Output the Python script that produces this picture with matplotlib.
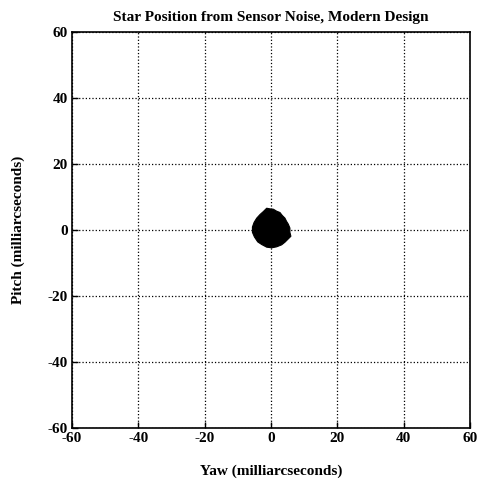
import matplotlib
matplotlib.use('Agg')
import matplotlib.pyplot as plt

# outline of the dense cluster of star positions (mas)
blob_yaw = [-2.3, -1.3, -0.3, 0.7, 1.7, 2.7, 3.4, 4.2, 4.7, 5.2, 5.7, 5.7, 6.0,
            5.2, 4.2, 3.2, 1.7, 0.2, -1.3, -2.8, -4.0, -5.0, -5.6, -5.6, -5.1,
            -4.3, -3.3]
blob_pitch = [5.6, 6.6, 6.4, 6.3, 5.7, 5.3, 4.4, 3.6, 2.6, 1.8, 0.6, -0.7, -1.9,
              -2.7, -3.7, -4.5, -5.1, -5.4, -5.2, -4.4, -3.6, -2.1, -0.7, 0.9,
              2.3, 3.6, 4.7]
ticks = [-60, -40, -20, 0, 20, 40, 60]

plt.rcParams['font.family'] = ['Liberation Serif', 'DejaVu Serif']
plt.rcParams['axes.unicode_minus'] = False

fig = plt.figure(figsize=(4.81, 4.88), dpi=100)
ax = fig.add_axes([72 / 481, 1 - 428 / 488, 398 / 481, 396 / 488])
ax.fill(blob_yaw, blob_pitch, color='k', lw=0.8, ec='k', zorder=3)

ax.set_xlim(-60, 60)
ax.set_ylim(-60, 60)
ax.set_xticks(ticks)
ax.set_yticks(ticks)
ax.tick_params(direction='in', length=4, labelsize=11, width=1, pad=3)
for lab in ax.get_xticklabels() + ax.get_yticklabels():
    lab.set_fontweight('bold')
ax.grid(True, color='k', linestyle=':', linewidth=0.9)
for s in ax.spines.values():
    s.set_linewidth(1.2)

ax.set_title('Star Position from Sensor Noise, Modern Design', fontsize=11,
             fontweight='bold', pad=8)
ax.set_xlabel('Yaw (milliarcseconds)', fontsize=11, fontweight='bold', labelpad=14)
ax.set_ylabel('Pitch (milliarcseconds)', fontsize=11, fontweight='bold', labelpad=16)

fig.savefig('out.png', dpi=100)
